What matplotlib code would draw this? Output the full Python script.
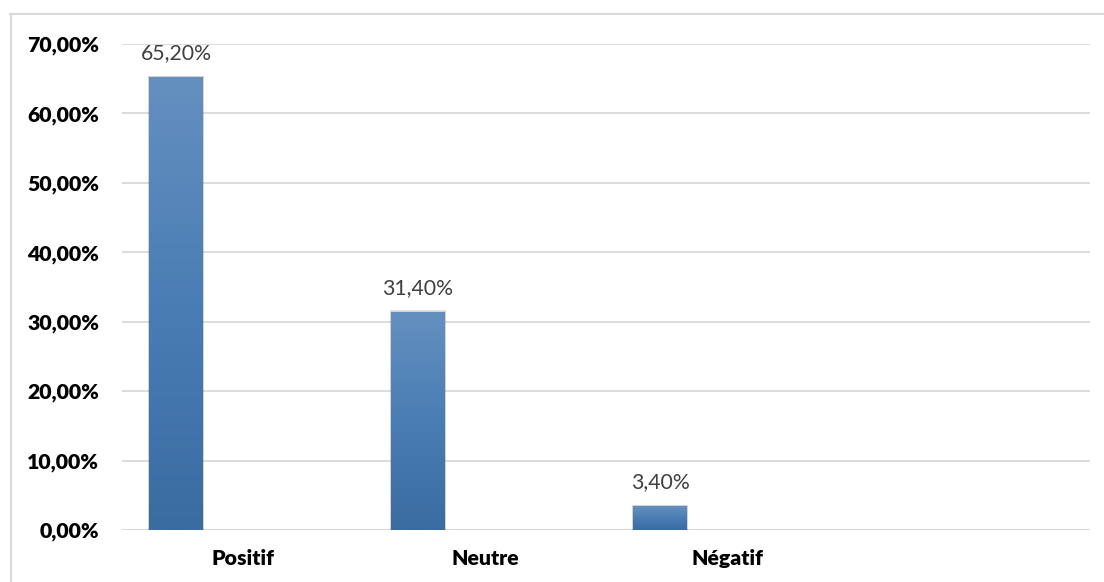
import matplotlib
matplotlib.use("Agg")
import matplotlib.pyplot as plt
import numpy as np
from matplotlib.colors import LinearSegmentedColormap
from matplotlib.patches import Rectangle
from matplotlib.lines import Line2D

categories = ["Positif", "Neutre", "Négatif", ""]
values = [65.2, 31.4, 3.4, None]
yticks = [0, 10, 20, 30, 40, 50, 60, 70]

W, H = 1104, 582
fig = plt.figure(figsize=(W / 100, H / 100), dpi=100)
ax = fig.add_axes([122 / W, (H - 530) / H, (1090 - 122) / W, (530 - 44) / H])

grid_color = "#d9d9d9"
ax.set_xlim(-0.5, len(categories) - 0.5)
ax.set_ylim(0, 70)
ax.set_yticks(yticks)
ax.set_yticklabels([f"{t:.2f}%".replace(".", ",") for t in yticks])
ax.yaxis.grid(True, color=grid_color, linewidth=1.3)
ax.set_axisbelow(True)
for s in ax.spines.values():
    s.set_visible(False)
ax.axhline(0, color=grid_color, linewidth=2.2, zorder=1)
ax.tick_params(axis="both", length=0)
ax.tick_params(axis="y", pad=16.5)
ax.tick_params(axis="x", pad=14)
ax.set_xticks(range(len(categories)))
ax.set_xticklabels(categories)
for lab in ax.get_xticklabels() + ax.get_yticklabels():
    lab.set_fontfamily("Lato")
    lab.set_fontweight("heavy")
    lab.set_fontsize(15.3)
    lab.set_color("black")

cmap = LinearSegmentedColormap.from_list("bar", ["#3a6ca2", "#4a7db4", "#6490bf"])
bar_offset = -0.277
bar_width = 0.223
grad = np.linspace(0, 1, 256).reshape(-1, 1)

for i, v in enumerate(values):
    if v is None:
        continue
    x0 = i + bar_offset - bar_width / 2
    # soft shadow around each bar
    for k, a in zip([0.05, 0.035, 0.02], [0.10, 0.10, 0.10]):
        sh = Rectangle((x0 - k * 0.12, 0), bar_width + k * 0.24, v + k * 2.0 + 0.15,
                       facecolor="#000000", alpha=a * 0.6, edgecolor="none", zorder=2)
        ax.add_patch(sh)
    bar = ax.bar(i + bar_offset, v, width=bar_width, color="none", zorder=3)[0]
    im = ax.imshow(grad, extent=[x0, x0 + bar_width, 0, v], origin="lower",
                   cmap=cmap, aspect="auto", zorder=3)
    im.set_clip_path(bar)
    ax.text(i + bar_offset, v + 2.0, f"{v:.2f}%".replace(".", ","), ha="center",
            va="bottom", fontsize=15.3, color="#404040", family="Lato")

ax.set_xlim(-0.5, len(categories) - 0.5)
ax.set_ylim(0, 70)

# chart frame (top and left edges)
fig.add_artist(Line2D([10 / W, 1], [1 - 14 / H, 1 - 14 / H], color=grid_color, linewidth=1.5))
fig.add_artist(Line2D([10.5 / W, 10.5 / W], [0, 1 - 14 / H], color=grid_color, linewidth=1.5))

fig.savefig("out.png", dpi=100, facecolor="white")
